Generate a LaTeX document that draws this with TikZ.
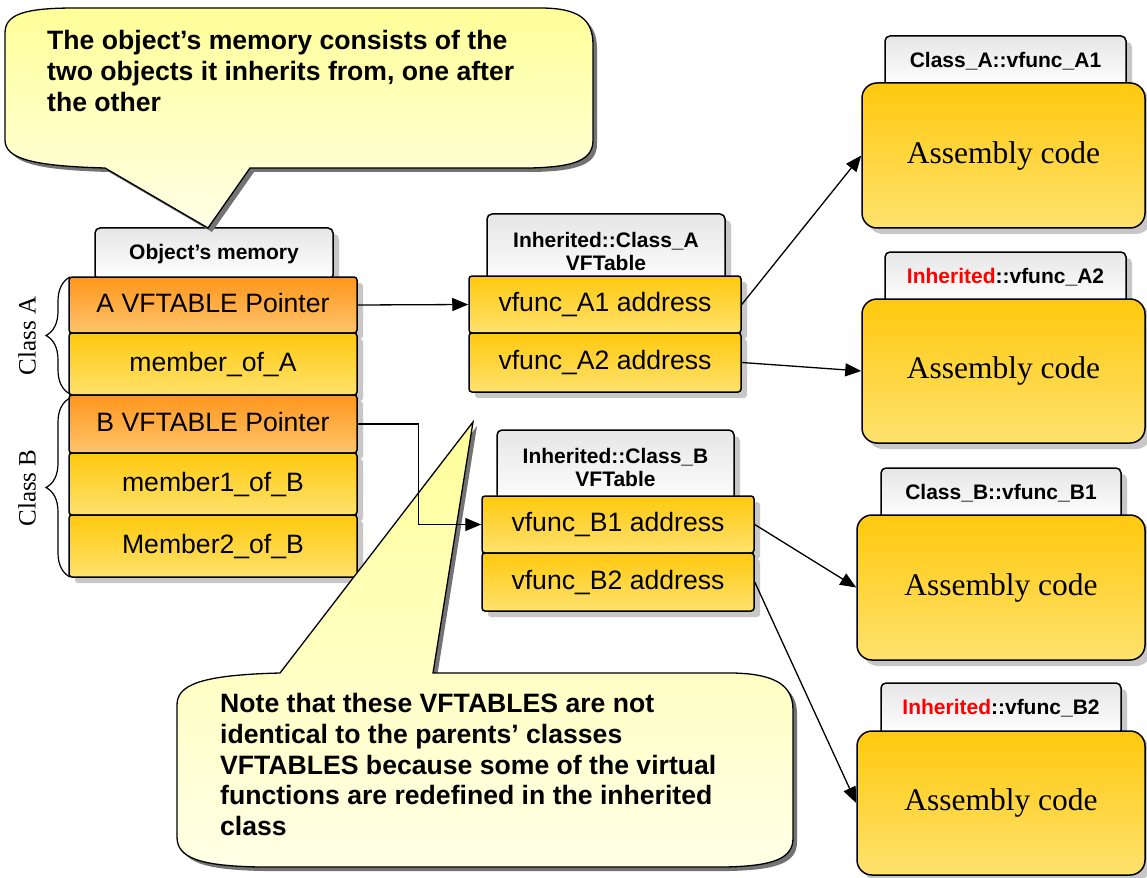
\documentclass[tikz,border=0pt]{standalone}
\usepackage{fontspec}
\setmainfont{Liberation Sans}
\newfontfamily\codefont{Liberation Serif}
\usetikzlibrary{arrows.meta, shadows, decorations.pathreplacing}

\definecolor{slottop}{HTML}{FFC90E}
\definecolor{slotbot}{HTML}{FFE26E}
\definecolor{ptrtop}{HTML}{FF961C}
\definecolor{ptrbot}{HTML}{FFC46C}
\definecolor{headtop}{HTML}{E6E6E6}
\definecolor{headbot}{HTML}{FFFFFF}
\definecolor{notetop}{HTML}{FFFF99}
\definecolor{notebot}{HTML}{FFFFE6}

\tikzset{
  boxshadow/.style={drop shadow={shadow xshift=6pt, shadow yshift=-6pt, fill=black!22, opacity=1}},
  slot/.style={draw, line width=1.5pt, rounded corners=3pt, inner sep=0pt,
               top color=slottop, bottom color=slotbot, boxshadow,
               text height=19pt, text depth=5pt, font=\fontsize{26.6}{30}\selectfont},
  ptrslot/.style={slot, top color=ptrtop, bottom color=ptrbot},
  head/.style={draw, line width=1.5pt, rounded corners=5pt, inner sep=0pt,
               top color=headtop, bottom color=headbot, boxshadow, align=center,
               font=\bfseries\fontsize{21}{23}\selectfont},
  headone/.style={head, minimum height=52pt, text height=15pt, text depth=4pt},
  headtwo/.style={head, minimum height=75pt},
  asmbox/.style={draw, line width=1.5pt, rounded corners=15pt, inner sep=0pt,
               top color=slottop, bottom color=slotbot, boxshadow,
               font=\codefont\fontsize{31.5}{36}\selectfont},
  note/.style={draw, line width=1.3pt, top color=notetop, bottom color=notebot,
               drop shadow={shadow xshift=4pt, shadow yshift=-4pt, fill=black!55, opacity=1}},
  notetext/.style={inner sep=0pt, align=left, anchor=north west,
               font=\bfseries\fontsize{26.6}{30.8}\selectfont},
  classlbl/.style={rotate=90, font=\codefont\fontsize{25}{28}\selectfont},
  link/.style={-{Triangle[length=16pt, width=13pt]}, line width=1.3pt},
  curly/.style={decorate, decoration={brace, amplitude=24pt}, line width=1.2pt}
}

\begin{document}
\begin{tikzpicture}[x=1pt, y=-1pt]
  \fill[white] (0,0) rectangle (1147,877);
  \useasboundingbox (0,0) rectangle (1147,877);

  % object's memory
  \node[headone, minimum width=238pt] (objhead) at (214,254) {Object’s memory};
  \node[ptrslot, minimum width=288pt, minimum height=56pt] (ptrA) at (213,305) {A VFTABLE Pointer};
  \node[slot, minimum width=288pt, minimum height=62pt] (memA) at (213,364) {member\_of\_A};
  \node[ptrslot, minimum width=288pt, minimum height=58pt] (ptrB) at (213,424) {B VFTABLE Pointer};
  \node[slot, minimum width=288pt, minimum height=62pt] (memB1) at (213,484) {member1\_of\_B};
  \node[slot, minimum width=288pt, minimum height=62pt] (memB2) at (213,546) {Member2\_of\_B};

  \draw[curly] (70,394) -- (70,277);
  \draw[curly] (70,577) -- (70,398);
  \node[classlbl] (clsA) at (27,336) {Class A};
  \node[classlbl] (clsB) at (27,488) {Class B};

  % vftables
  \node[headtwo, minimum width=238pt] (vtAhead) at (606,251.5) {Inherited::Class\_A\\VFTable};
  \node[slot, minimum width=272pt, minimum height=57pt] (fA1) at (605,304.5) {vfunc\_A1 address};
  \node[slot, minimum width=272pt, minimum height=59pt] (fA2) at (605,362.5) {vfunc\_A2 address};

  \node[headtwo, minimum width=237pt] (vtBhead) at (615.5,467.5) {Inherited::Class\_B\\VFTable};
  \node[slot, minimum width=272pt, minimum height=57pt] (fB1) at (618,524.5) {vfunc\_B1 address};
  \node[slot, minimum width=272pt, minimum height=58pt] (fB2) at (618,582) {vfunc\_B2 address};

  % function bodies
  \node[headone, minimum width=241pt] (hA1) at (1005.5,62) {Class\_A::vfunc\_A1};
  \node[asmbox, minimum width=283pt, minimum height=145pt] (asmA1) at (1003.5,155.5) {Assembly code};
  \node[headone, minimum width=241pt] (hA2) at (1005.5,278) {\textcolor{red}{Inherited}::vfunc\_A2};
  \node[asmbox, minimum width=283pt, minimum height=144pt] (asmA2) at (1003.5,371) {Assembly code};
  \node[headone, minimum width=240pt] (hB1) at (1001,494) {Class\_B::vfunc\_B1};
  \node[asmbox, minimum width=288pt, minimum height=145pt] (asmB1) at (1001,587.5) {Assembly code};
  \node[headone, minimum width=240pt] (hB2) at (1001,709) {\textcolor{red}{Inherited}::vfunc\_B2};
  \node[asmbox, minimum width=288pt, minimum height=144pt] (asmB2) at (1001,803) {Assembly code};

  % callouts
  \path[note] (5,33) .. controls (5,14) and (25,8) .. (75,8) -- (540,8)
        .. controls (580,8) and (593,20) .. (593,45) -- (593,140)
        .. controls (593,160) and (575,167) .. (530,168) -- (250,168)
        -- (208,228) -- (105,168) .. controls (30,166) and (5,158) .. (5,140) -- cycle;
  \node[notetext] (note1) at (47,30) {The object’s memory consists of the\\two objects it inherits from, one after\\the other};

  \path[note] (177,705) .. controls (177,685) and (200,675) .. (280,673)
        -- (473,422) -- (433,673) -- (733,673)
        .. controls (775,674) and (793,685) .. (793,710) -- (793,838)
        .. controls (793,858) and (775,866) .. (725,867) -- (260,867)
        .. controls (200,866) and (177,858) .. (177,837) -- cycle;
  \node[notetext] (note2) at (220,693) {Note that these VFTABLES are not\\identical to the parents’ classes\\VFTABLES because some of the virtual\\functions are redefined in the inherited\\class};

  % pointers
  \draw[link] (ptrA.east) -- (fA1.west);
  \draw[link] (ptrB.east) -- ++(61,0) |- (fB1.west);
  \draw[link] (fA1.east) -- (asmA1.west);
  \draw[link] (fA2.east) -- (asmA2.west);
  \draw[link] (fB1.east) -- (asmB1.west);
  \draw[link] (fB2.east) -- (asmB2.west);
\end{tikzpicture}
\end{document}
